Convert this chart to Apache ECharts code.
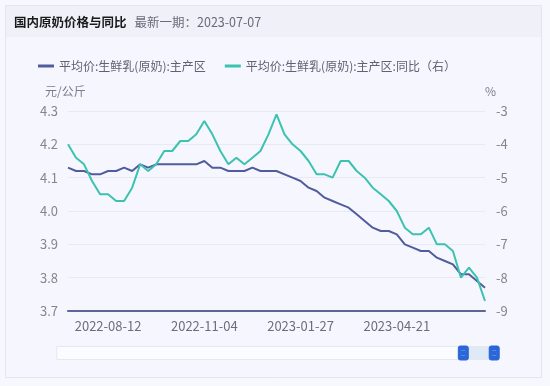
<!DOCTYPE html>
<html>
<head>
<meta charset="utf-8">
<script src="https://cdn.jsdelivr.net/npm/echarts@6/dist/echarts.min.js"></script>
<style>
html,body{margin:0;padding:0;background:#f7f8fd;}
#chart{width:550px;height:386px;}
</style>
</head>
<body>
<div id="chart"></div>
<script>
const dates = [
'2022-07-08','2022-07-15','2022-07-22','2022-07-29','2022-08-05','2022-08-12','2022-08-19','2022-08-26',
'2022-09-02','2022-09-09','2022-09-16','2022-09-23','2022-09-30','2022-10-07','2022-10-14','2022-10-21',
'2022-10-28','2022-11-04','2022-11-11','2022-11-18','2022-11-25','2022-12-02','2022-12-09','2022-12-16',
'2022-12-23','2022-12-30','2023-01-06','2023-01-13','2023-01-20','2023-01-27','2023-02-03','2023-02-10',
'2023-02-17','2023-02-24','2023-03-03','2023-03-10','2023-03-17','2023-03-24','2023-03-31','2023-04-07',
'2023-04-14','2023-04-21','2023-04-28','2023-05-05','2023-05-12','2023-05-19','2023-05-26','2023-06-02',
'2023-06-09','2023-06-16','2023-06-23','2023-06-30','2023-07-07'];

const priceName = '平均价:生鲜乳(原奶):主产区';
const yoyName = '平均价:生鲜乳(原奶):主产区:同比（右）';

const price = [4.13,4.12,4.12,4.11,4.11,4.12,4.12,4.13,4.12,4.14,4.13,4.14,4.14,4.14,4.14,4.14,4.14,4.15,
4.13,4.13,4.12,4.12,4.12,4.13,4.12,4.12,4.12,4.11,4.10,4.09,4.07,4.06,4.04,4.03,4.02,4.01,3.99,3.97,3.95,
3.94,3.94,3.93,3.90,3.89,3.88,3.88,3.86,3.85,3.84,3.81,3.81,3.79,3.77];

const yoy = [-4.0,-4.4,-4.6,-5.1,-5.5,-5.5,-5.7,-5.7,-5.3,-4.6,-4.8,-4.6,-4.2,-4.2,-3.9,-3.9,-3.7,-3.3,
-3.7,-4.2,-4.6,-4.4,-4.6,-4.4,-4.2,-3.7,-3.1,-3.7,-4.0,-4.2,-4.5,-4.9,-4.9,-5.0,-4.5,-4.5,-4.8,-5.0,-5.3,
-5.5,-5.7,-6.0,-6.5,-6.7,-6.7,-6.5,-7.0,-7.0,-7.2,-8.0,-7.7,-8.0,-8.7];

const leftTicks = {min: 3.7, max: 4.3, interval: 0.1};
const rightTicks = {min: -9, max: -3, interval: 1};

const FONT = '"Noto Sans CJK SC", "Noto Sans", sans-serif';
const chart = echarts.init(document.getElementById('chart'), null, {renderer: 'canvas'});

const handlePath = 'path://M2,0 H8 A2,2 0 0 1 10,2 V12 A2,2 0 0 1 8,14 H2 A2,2 0 0 1 0,12 V2 A2,2 0 0 1 2,0 Z ' +
  'M2.5,4 V5 H7.5 V4 Z M2.5,6.5 V7.5 H7.5 V6.5 Z M2.5,9 V10 H7.5 V9 Z';

chart.setOption({
  animation: false,
  textStyle: {fontFamily: FONT},
  graphic: [
    {type: 'rect', z: -10, silent: true, shape: {x: 5.5, y: 5.5, width: 536, height: 372},
     style: {fill: '#f6f7fe', stroke: '#e4e6ef', lineWidth: 1}},
    {type: 'rect', z: -9, silent: true, shape: {x: 6, y: 6, width: 535, height: 31},
     style: {fill: '#eff0f8'}}
  ],
  title: {
    left: 9, top: 11,
    text: '{a|国内原奶价格与同比}{b|最新一期：2023-07-07}',
    textStyle: {
      rich: {
        a: {fontSize: 12.5, fontWeight: 'bold', color: '#1a1a1a', fontFamily: FONT},
        b: {fontSize: 12.5, fontWeight: 'normal', color: '#686b78', fontFamily: FONT, padding: [0, 0, 0, 8]}
      }
    }
  },
  legend: {
    left: 33, top: 55,
    itemWidth: 16, itemHeight: 3, itemGap: 19,
    icon: 'rect',
    textStyle: {fontSize: 12, color: '#5f6270', fontFamily: FONT},
    data: [priceName, yoyName]
  },
  grid: {left: 68, right: 65, top: 111, bottom: 75},
  xAxis: [{
    type: 'category',
    data: dates,
    boundaryGap: false,
    axisLine: {lineStyle: {color: '#5c6699', width: 2}},
    axisTick: {show: false},
    axisLabel: {
      color: '#6b6e7a', fontSize: 13, margin: 9, fontFamily: FONT,
      interval: function (idx) { return idx % 12 === 5; }
    },
    splitLine: {show: false}
  }, {
    type: 'category',
    data: dates,
    show: false
  }],
  yAxis: [{
    type: 'value',
    min: leftTicks.min, max: leftTicks.max, interval: leftTicks.interval,
    name: '元/公斤',
    nameLocation: 'end',
    nameGap: 14,
    nameTextStyle: {color: '#7a7d89', fontSize: 12, align: 'left', padding: [0, 0, 0, -23], fontFamily: FONT},
    axisLine: {show: false},
    axisTick: {show: false},
    axisLabel: {color: '#84868f', fontSize: 13, margin: 10, fontFamily: FONT,
      formatter: function (v) { return v.toFixed(1); }},
    splitLine: {lineStyle: {color: '#e8e9f3', width: 1}}
  }, {
    type: 'value',
    min: rightTicks.min, max: rightTicks.max, interval: rightTicks.interval,
    name: '%',
    nameLocation: 'end',
    nameGap: 14,
    nameTextStyle: {color: '#7a7d89', fontSize: 12, align: 'left', padding: [0, 0, 0, 0], fontFamily: FONT},
    axisLine: {show: false},
    axisTick: {show: false},
    axisLabel: {color: '#84868f', fontSize: 13, margin: 11, fontFamily: FONT},
    splitLine: {show: false}
  }],
  dataZoom: [{
    type: 'slider',
    xAxisIndex: 1,
    start: 92.5, end: 100,
    left: 55, right: 56, bottom: 26, height: 14,
    showDataShadow: false,
    showDetail: false,
    brushSelect: false,
    moveHandleSize: 0,
    backgroundColor: '#fbfcff',
    borderColor: '#e6e8f0',
    fillerColor: 'rgba(190,210,240,0.45)',
    handleIcon: handlePath,
    handleSize: '100%',
    handleStyle: {color: '#2a66d8', borderColor: '#2a66d8'},
    emphasis: {handleStyle: {color: '#2a66d8', borderColor: '#2a66d8'}}
  }],
  series: [{
    name: priceName,
    type: 'line',
    xAxisIndex: 0, yAxisIndex: 0,
    data: price,
    showSymbol: false,
    symbol: 'none',
    lineStyle: {width: 2, color: '#505c9c'},
    itemStyle: {color: '#505c9c'}
  }, {
    name: yoyName,
    type: 'line',
    xAxisIndex: 0, yAxisIndex: 1,
    data: yoy,
    showSymbol: false,
    symbol: 'none',
    lineStyle: {width: 2, color: '#3cc2b0'},
    itemStyle: {color: '#3cc2b0'}
  }]
});
</script>
</body>
</html>
